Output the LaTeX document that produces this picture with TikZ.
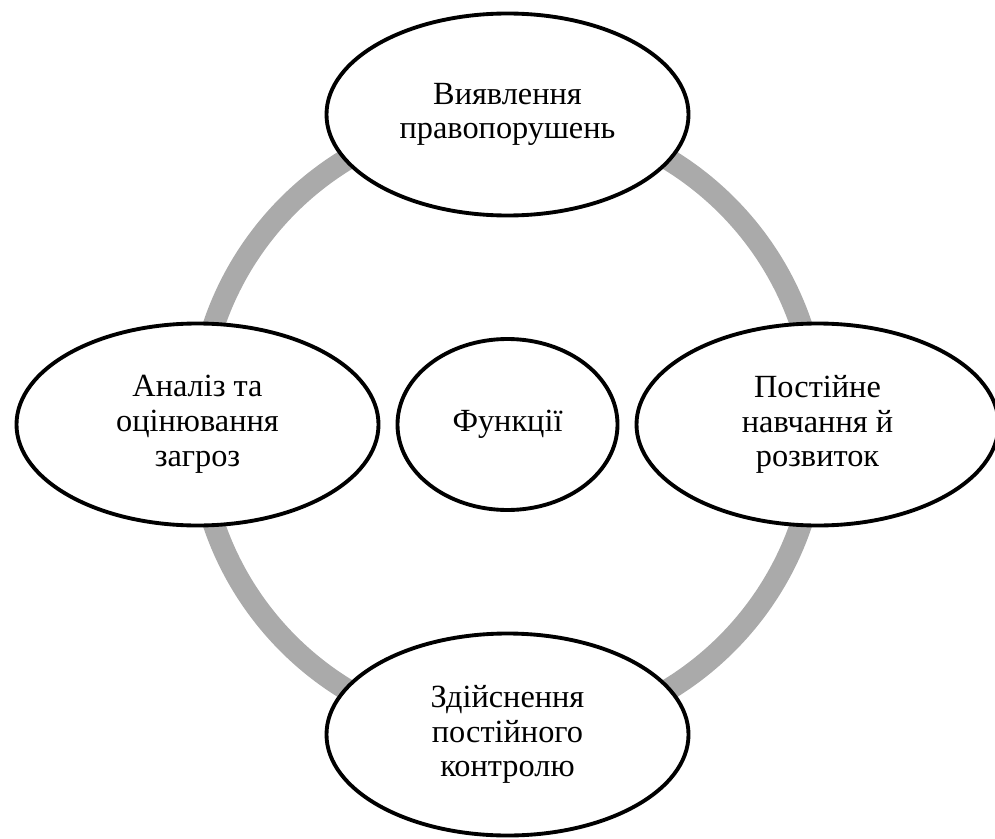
\documentclass[tikz,border=0pt]{standalone}
\usepackage{fontspec}
\setmainfont{Liberation Serif}
\usetikzlibrary{positioning,calc,shapes.geometric}
\pgfdeclarelayer{bg}
\pgfsetlayers{bg,main}
\definecolor{ringgray}{RGB}{170,170,170}

\begin{document}
\begin{tikzpicture}[
every node/.style = {
	font = \fontsize{18.4}{19.8}\selectfont
},
func/.style = {
	ellipse,
	draw,
	fill = white,
	line width = 2.2pt,
	minimum width = 7.24cm,
	minimum height = 4.04cm,
	align = center,
	inner sep = 0pt
},
core/.style = {
	func,
	minimum width = 4.4cm,
	minimum height = 3.42cm
},
ring/.style = {
	line width = 12.5pt,
	ringgray
}
]
\useasboundingbox (0,0) rectangle (19.9,16.76);

\node [core] (fn) at (10.15,8.27) {Функції};

\node [func] (detect) at ($(fn)+(90:6.2)$) {Виявлення\\правопорушень};
\node [func] (learn) at ($(fn)+(0:6.2)$) {Постійне\\навчання й\\розвиток};
\node [func] (control) at ($(fn)+(-90:6.2)$) {Здійснення\\постійного\\контролю};
\node [func] (threat) at ($(fn)+(180:6.2)$) {Аналіз та\\оцінювання\\загроз};

\begin{pgfonlayer}{bg}
\draw[ring] (fn) circle [radius=6.2cm];
\end{pgfonlayer}

\end{tikzpicture}
\end{document}
